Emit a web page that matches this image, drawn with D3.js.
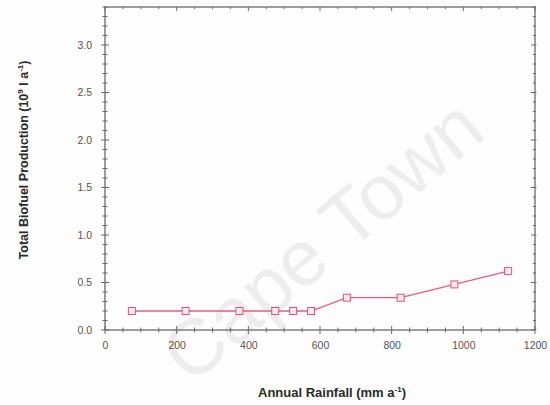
<!DOCTYPE html>
<html>
<head>
<meta charset="utf-8">
<script src="https://cdn.jsdelivr.net/npm/d3@7"></script>
<style>
  html, body { margin: 0; padding: 0; background: #fdfdfd; }
  svg { display: block; }
</style>
</head>
<body>
<svg id="chart" width="550" height="405"></svg>
<script>
// ---- data ----
const rainfall = [75, 225, 375, 475, 525, 575, 675, 825, 975, 1125];
const production = [0.2, 0.2, 0.2, 0.2, 0.2, 0.2, 0.34, 0.34, 0.48, 0.62];
const xTicks = [0, 200, 400, 600, 800, 1000, 1200];
const yTicks = [0.0, 0.5, 1.0, 1.5, 2.0, 2.5, 3.0];
const xMinorStep = 50;
const yMinorStep = 0.1;
const xTitle = "Annual Rainfall (mm a";
const yTitle = "Total Biofuel Production (10";
const watermark = "Cape Town";

(function () {
// ---- layout ----
const svg = d3.select("#chart");
const pL = 105, pR = 535, pT = 7, pB = 330;
const x = d3.scaleLinear().domain([0, 1200]).range([pL, pR]);
const y = d3.scaleLinear().domain([0, 3.4]).range([pB, pT]);

// watermark
svg.append("text")
  .attr("transform", "translate(322,240) rotate(-40)")
  .attr("text-anchor", "middle")
  .attr("dominant-baseline", "central")
  .attr("font-family", "Liberation Sans, Arial, sans-serif")
  .attr("font-size", 78)
  .attr("fill", "#ededed")
  .text(watermark);

const frameColor = "#6a6a6a";
const g = svg.append("g");

// minor ticks
const xMinor = d3.range(0, 1200 + 1e-9, xMinorStep);
const yMinor = d3.range(0, 3.4 + 1e-9, yMinorStep).map(v => +v.toFixed(2));
const isMajorX = v => xTicks.includes(v);
const isMajorY = v => yTicks.some(t => Math.abs(t - v) < 1e-6);

// bottom ticks (crossing)
g.selectAll(".xb").data(xMinor).join("line")
  .attr("x1", d => x(d)).attr("x2", d => x(d))
  .attr("y1", d => pB - (isMajorX(d) ? 4 : 2.5))
  .attr("y2", d => pB + (isMajorX(d) ? 4 : 2.5))
  .attr("stroke", frameColor).attr("stroke-width", 1);
// top ticks (inward)
g.selectAll(".xt").data(xMinor).join("line")
  .attr("x1", d => x(d)).attr("x2", d => x(d))
  .attr("y1", pT)
  .attr("y2", d => pT + (isMajorX(d) ? 4 : 2))
  .attr("stroke", frameColor).attr("stroke-width", 1);
// left ticks (crossing)
g.selectAll(".yl").data(yMinor).join("line")
  .attr("y1", d => y(d)).attr("y2", d => y(d))
  .attr("x1", d => pL - (isMajorY(d) ? 4 : 2.5))
  .attr("x2", d => pL + (isMajorY(d) ? 4 : 2.5))
  .attr("stroke", frameColor).attr("stroke-width", 1);
// right ticks (crossing, small)
g.selectAll(".yr").data(yMinor).join("line")
  .attr("y1", d => y(d)).attr("y2", d => y(d))
  .attr("x1", d => pR + (isMajorY(d) ? 1.5 : 1))
  .attr("x2", d => pR - (isMajorY(d) ? 4 : 2))
  .attr("stroke", frameColor).attr("stroke-width", 1);

// frame
g.append("rect")
  .attr("x", pL).attr("y", pT)
  .attr("width", pR - pL).attr("height", pB - pT)
  .attr("fill", "none").attr("stroke", frameColor).attr("stroke-width", 1.3);

// tick labels via d3 axes
const xAxis = svg.append("g")
  .attr("transform", `translate(0,${pB})`)
  .call(d3.axisBottom(x).tickValues(xTicks).tickSize(0).tickPadding(12).tickFormat(d3.format("d")));
const yAxis = svg.append("g")
  .attr("transform", `translate(${pL},0)`)
  .call(d3.axisLeft(y).tickValues(yTicks).tickSize(0).tickPadding(13).tickFormat(d3.format(".1f")));
[xAxis, yAxis].forEach(a => {
  a.select(".domain").remove();
  a.selectAll("text")
    .attr("font-family", "Liberation Sans, Arial, sans-serif")
    .attr("font-size", 10.5)
    .attr("fill", "#555");
});

// line + markers
const lineColor = "#ee5a7c";
const pts = rainfall.map((r, i) => [r, production[i]]);
svg.append("path")
  .datum(pts)
  .attr("fill", "none")
  .attr("stroke", lineColor)
  .attr("stroke-width", 1.3)
  .attr("d", d3.line().x(d => x(d[0])).y(d => y(d[1])));
const ms = 7;
svg.selectAll(".mk").data(pts).join("rect")
  .attr("x", d => x(d[0]) - ms / 2)
  .attr("y", d => y(d[1]) - ms / 2)
  .attr("width", ms).attr("height", ms)
  .attr("fill", "#fbe9ee")
  .attr("stroke", "#d9577a").attr("stroke-width", 1);

// axis titles
const xt = svg.append("text")
  .attr("x", 332).attr("y", 397)
  .attr("text-anchor", "middle")
  .attr("font-family", "Liberation Sans, Arial, sans-serif")
  .attr("font-weight", "bold")
  .attr("font-size", 13)
  .attr("fill", "#2a2a2a");
xt.append("tspan").text(xTitle);
xt.append("tspan").attr("font-size", 8).attr("dy", -5).text("-1");
xt.append("tspan").attr("dy", 5).text(")");

const yt = svg.append("text")
  .attr("transform", "translate(28,160) rotate(-90)")
  .attr("text-anchor", "middle")
  .attr("font-family", "Liberation Sans, Arial, sans-serif")
  .attr("font-weight", "bold")
  .attr("font-size", 12.5)
  .attr("fill", "#2a2a2a");
yt.append("tspan").text(yTitle);
yt.append("tspan").attr("font-size", 8).attr("dy", -5).text("9");
yt.append("tspan").attr("dy", 5).text(" l a");
yt.append("tspan").attr("font-size", 8).attr("dy", -5).text("-1");
yt.append("tspan").attr("dy", 5).text(")");
})();
</script>
</body>
</html>
